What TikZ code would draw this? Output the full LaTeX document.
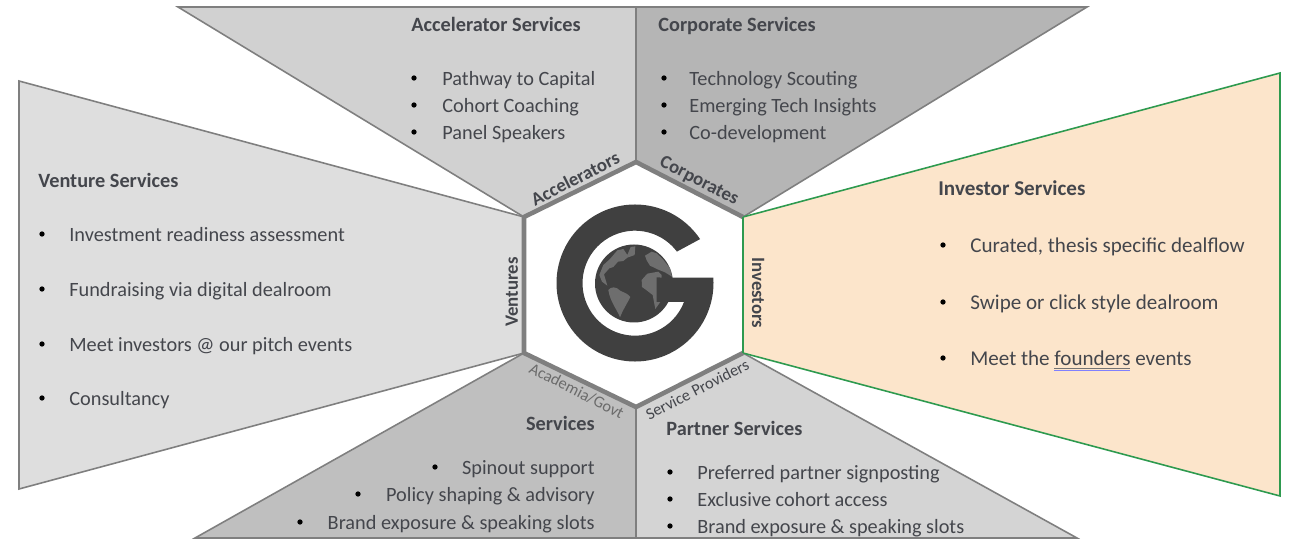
\documentclass[tikz,border=0pt]{standalone}
\usepackage{fontspec}
\setmainfont{Carlito}
\usetikzlibrary{positioning}
\definecolor{txtgrey}{HTML}{44464C}
\definecolor{edgegrey}{HTML}{7F7F7F}
\definecolor{logogrey}{HTML}{404040}
\definecolor{landgrey}{HTML}{6E6E6E}
\definecolor{invgreen}{HTML}{2E9A4F}
\definecolor{invfill}{HTML}{FCE5CB}
\tikzset{
    panel/.style={draw=edgegrey, line width=0.9pt, line join=miter},
    title/.style={font=\fontsize{11.55}{13}\selectfont\bfseries, text=txtgrey, anchor=west, inner sep=0pt, text height=8.5pt, text depth=0pt},
    item/.style={font=\fontsize{11.55}{13}\selectfont, text=txtgrey, anchor=west, inner sep=0pt, text height=8.5pt, text depth=0pt},
    bigtitle/.style={title, font=\fontsize{12}{14}\selectfont\bfseries},
    bigitem/.style={item, font=\fontsize{12}{14}\selectfont},
    dot/.style={circle, fill=black, inner sep=0pt, minimum size=3pt},
    tag/.style={font=\fontsize{10.7}{12}\selectfont\bfseries, text=txtgrey, inner sep=0pt, text height=7.5pt, text depth=2pt},
    smalltag/.style={font=\fontsize{9.3}{11}\selectfont, inner sep=0pt, text height=6.5pt, text depth=2pt}
}
\begin{document}
\begin{tikzpicture}[x=0.02cm, y=-0.02cm]
    \useasboundingbox (0,0) rectangle (1291,540);

    % Corners of the hexagon
    \coordinate (hexT) at (636,162);
    \coordinate (hexUR) at (743,217);
    \coordinate (hexLR) at (743,353);
    \coordinate (hexB) at (636,407);
    \coordinate (hexLL) at (524,353);
    \coordinate (hexUL) at (524,217);

    % The six panels round the hexagon
    \draw[panel, fill=black!18] (178,7) -- (636,7) -- (hexT) -- (hexUL) -- cycle;
    \draw[panel, fill=black!29] (636,7) -- (1087,7) -- (hexUR) -- (hexT) -- cycle;
    \draw[panel, fill=black!13] (19,81) -- (hexUL) -- (hexLL) -- (19,489) -- cycle;
    \draw[panel, fill=black!25] (hexLL) -- (hexB) -- (636,538) -- (195,538) -- cycle;
    \draw[panel, fill=black!17] (hexB) -- (hexLR) -- (1077,538) -- (636,538) -- cycle;
    \draw[draw=invgreen, line width=0.9pt, fill=invfill] (hexUR) -- (1280,73) -- (1280,496) -- (hexLR) -- cycle;

    % Hexagon outline
    \fill[white] (hexT) -- (hexUR) -- (hexLR) -- (hexB) -- (hexLL) -- (hexUL) -- cycle;
    \draw[edgegrey, line width=2.6pt, line join=round] (hexLR) -- (hexB) -- (hexLL) -- (hexUL) -- (hexT) -- (hexUR);
    \draw[invgreen, line width=1.4pt] (hexUR) -- (hexLR);

    % Globe and the G
    \def\rO{78.5}
    \def\rI{52.5}
    \fill[logogrey] (634,283.5) circle (39);
    \begin{scope}[shift={(590,235)}, x=0.00667cm, y=-0.00667cm]
        % Lands, in the coordinates of a 3x crop
        \fill[landgrey] (60,72) -- (82,46) -- (100,42) -- (112,60) -- (122,36) -- (136,34) -- (134,60) -- (112,68) -- (100,78) -- (84,80) -- (70,96) -- (58,100) -- (42,118) -- (52,152) -- (36,140) -- (28,120) -- (40,90) -- cycle;
        \fill[landgrey] (55,165) .. controls (62,155) and (78,153) .. (92,168) .. controls (102,172) and (116,178) .. (121,186) .. controls (112,205) and (98,225) .. (90,247) .. controls (82,225) and (60,200) .. (55,165) -- cycle;
        \fill[landgrey] (155,135) -- (172,116) -- (205,110) -- (215,120) -- (215,195) -- (196,222) -- (188,180) -- (170,166) -- (156,156) -- cycle;
        \fill[landgrey] (165,62) -- (185,50) -- (200,55) -- (218,72) -- (240,100) -- (246,125) -- (225,112) -- (205,104) -- (180,92) -- (170,76) -- cycle;
    \end{scope}
    \fill[logogrey] ({635+\rO*cos(34)},{283-\rO*sin(34)}) arc[start angle=-34, end angle=-364, radius=\rO]
        -- (656.5,277.5) -- (656.5,302) -- ({635+\rI*cos(21)},302)
        arc[start angle=21, end angle=323, radius=\rI] -- cycle;

    % Tags on the sides of the hexagon
    \node[tag, rotate=27] (tagacc) at (576,180) {Accelerators};
    \node[tag, rotate=-27] (tagcorp) at (699,181) {Corporates};
    \node[tag, rotate=90] (tagvent) at (513,292) {Ventures};
    \node[tag, rotate=-90] (taginv) at (757,293) {Investors};
    \node[smalltag, rotate=-27, text=black!58] (tagacad) at (576,392) {Academia/Govt};
    \node[smalltag, rotate=27, text=txtgrey] (tagserv) at (698,391) {Service Providers};

    % Accelerator panel
    \node[title] (acctitle) at (411,24) {Accelerator Services};
    \foreach \y/\t in {78/Pathway to Capital, 105/Cohort Coaching, 132/Panel Speakers} {
        \node[dot] at (414,\y) {};
        \node[item] at (442,\y) {\t};
    }

    % Corporate panel
    \node[title] (corptitle) at (658,24) {Corporate Services};
    \foreach \y/\t in {78/Technology Scouting, 105/Emerging Tech Insights, 132/Co-development} {
        \node[dot] at (664,\y) {};
        \node[item] at (689,\y) {\t};
    }

    % Venture panel
    \node[title] (venttitle) at (38,180) {Venture Services};
    \foreach \y/\t in {234/Investment readiness assessment, 289/Fundraising via digital dealroom, 344/Meet investors @ our pitch events, 398/Consultancy} {
        \node[dot] at (42,\y) {};
        \node[item] at (69,\y) {\t};
    }

    % Investor panel
    \node[bigtitle] (invtitle) at (938,188) {Investor Services};
    \foreach \y/\t in {245/{Curated, thesis specific dealflow}, 302/Swipe or click style dealroom} {
        \node[dot] at (943,\y) {};
        \node[bigitem] at (970,\y) {\t};
    }
    \node[dot] at (943,358) {};
    \node[bigitem] (invlast) at (970,358) {Meet the founders events};
    \draw[black!55, line width=0.5pt] (1054,368.5) -- (1130,368.5);
    \draw[blue!50!white, line width=0.6pt] (1054,370.5) -- (1130,370.5);

    % Academia panel, right aligned
    \node[title, anchor=east] (acadtitle) at (595,423) {Services};
    \node[dot] at (435,467) {};
    \node[item, anchor=east] at (595,467) {Spinout support};
    \node[dot] at (358,494) {};
    \node[item, anchor=east] at (595,494) {Policy shaping \& advisory};
    \node[dot] at (300,522) {};
    \node[item, anchor=east] at (595,522) {Brand exposure \& speaking slots};

    % Partner panel
    \node[title] (parttitle) at (666,428) {Partner Services};
    \foreach \y/\t in {472/Preferred partner signposting, 499/Exclusive cohort access, 526/Brand exposure \& speaking slots} {
        \node[dot] at (670,\y) {};
        \node[item] at (697,\y) {\t};
    }
\end{tikzpicture}
\end{document}
